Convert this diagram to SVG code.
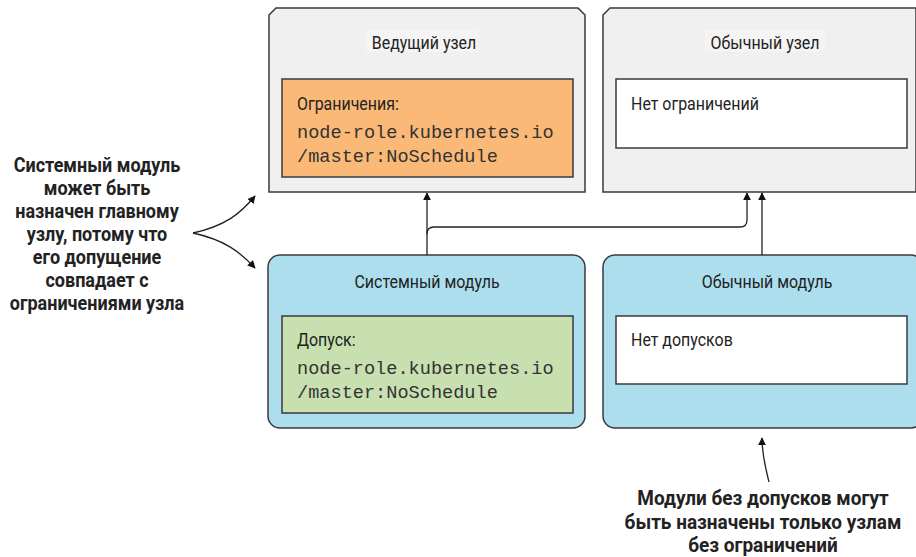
<svg xmlns="http://www.w3.org/2000/svg" width="916" height="557" viewBox="0 0 916 557">
  <style>
    .node { fill: #f0f0f0; stroke: #3a3a3a; stroke-width: 1.5; }
    .pod { fill: #acdeee; stroke: #3a3a3a; stroke-width: 1.5; }
    .inner { stroke: #3a3a3a; stroke-width: 1.5; }
    .title { font-family: Roboto, "Liberation Sans", sans-serif; font-size: 19px; fill: #222; text-anchor: middle; }
    .label { font-family: Roboto, "Liberation Sans", sans-serif; font-size: 19px; fill: #222; }
    .mono { font-family: "Liberation Mono", monospace; font-size: 18.6px; fill: #333; }
    .note { font-family: Roboto, "Liberation Sans", sans-serif; font-size: 20px; font-weight: bold; fill: #222; text-anchor: middle; }
    .wire { fill: none; stroke: #222; stroke-width: 1.3; }
  </style>
  <defs>
    <marker id="arrow" viewBox="0 0 10 10" refX="9" refY="5" markerWidth="8" markerHeight="8" markerUnits="userSpaceOnUse" orient="auto">
      <path d="M0,0 L10,5 L0,10 z" fill="#111"/>
    </marker>
  </defs>

  <rect width="916" height="557" fill="#ffffff"/>

  <!-- Master node -->
  <g id="master-node">
    <path class="node" d="M269,15 L276,8 L578,8 L585,15 L585,192 L269,192 Z"/>
    <rect x="366" y="30" width="112" height="22" fill="#f4f4f4"/>
    <text class="title" transform="translate(424,49) scale(0.84,1)">Ведущий узел</text>
    <rect class="inner" x="282" y="79" width="291" height="98" fill="#fbb977"/>
    <text class="label" transform="translate(297,110) scale(0.84,1)">Ограничения:</text>
    <text class="mono" x="297" y="138">node-role.kubernetes.io</text>
    <text class="mono" x="297" y="162">/master:NoSchedule</text>
  </g>

  <!-- Regular node -->
  <g id="regular-node">
    <path class="node" d="M603,15 L610,8 L916,8 L916,192 L603,192 Z"/>
    <rect x="705" y="30" width="120" height="22" fill="#f4f4f4"/>
    <text class="title" transform="translate(765,49) scale(0.84,1)">Обычный узел</text>
    <rect class="inner" x="616" y="79" width="291" height="69" fill="#ffffff"/>
    <text class="label" transform="translate(631,110) scale(0.84,1)">Нет ограничений</text>
  </g>

  <!-- System pod -->
  <g id="system-pod">
    <rect class="pod" x="268" y="255" width="317" height="173" rx="12" ry="12"/>
    <text class="title" transform="translate(427,288) scale(0.84,1)">Системный модуль</text>
    <rect class="inner" x="282" y="316" width="291" height="97" fill="#c8e0b0"/>
    <text class="label" transform="translate(297,346) scale(0.84,1)">Допуск:</text>
    <text class="mono" x="297" y="374">node-role.kubernetes.io</text>
    <text class="mono" x="297" y="398">/master:NoSchedule</text>
  </g>

  <!-- Regular pod -->
  <g id="regular-pod">
    <rect class="pod" x="603" y="255" width="320" height="173" rx="12" ry="12"/>
    <text class="title" transform="translate(767,288) scale(0.84,1)">Обычный модуль</text>
    <rect class="inner" x="616" y="316" width="291" height="68" fill="#ffffff"/>
    <text class="label" transform="translate(631,346) scale(0.84,1)">Нет допусков</text>
  </g>

  <!-- Annotations -->
  <g id="note-left" transform="translate(97,0) scale(0.9,1)">
    <text class="note" x="0" y="172">Системный модуль</text>
    <text class="note" x="0" y="195">может быть</text>
    <text class="note" x="0" y="218">назначен главному</text>
    <text class="note" x="0" y="241">узлу, потому что</text>
    <text class="note" x="0" y="264">его допущение</text>
    <text class="note" x="0" y="287">совпадает с</text>
    <text class="note" x="0" y="310">ограничениями узла</text>
  </g>
  <g id="note-bottom" transform="translate(763,0) scale(0.95,1)">
    <text class="note" x="0" y="505">Модули без допусков могут</text>
    <text class="note" x="0" y="529">быть назначены только узлам</text>
    <text class="note" x="0" y="552">без ограничений</text>
  </g>

  <!-- Connectors -->
  <g id="connectors">
    <path class="wire" d="M427,255 L427,193" marker-end="url(#arrow)"/>
    <path class="wire" d="M427,234 Q427,227 434,227 L740,227 Q747,227 747,220 L747,193" marker-end="url(#arrow)"/>
    <path class="wire" d="M762,255 L762,193" marker-end="url(#arrow)"/>
    <path class="wire" d="M193,233 C225,226 240,214 255,196" marker-end="url(#arrow)"/>
    <path class="wire" d="M193,233 C225,240 240,252 255,268" marker-end="url(#arrow)"/>
    <path class="wire" d="M769,482 C766,470 762,455 762,438" marker-end="url(#arrow)"/>
  </g>
</svg>
